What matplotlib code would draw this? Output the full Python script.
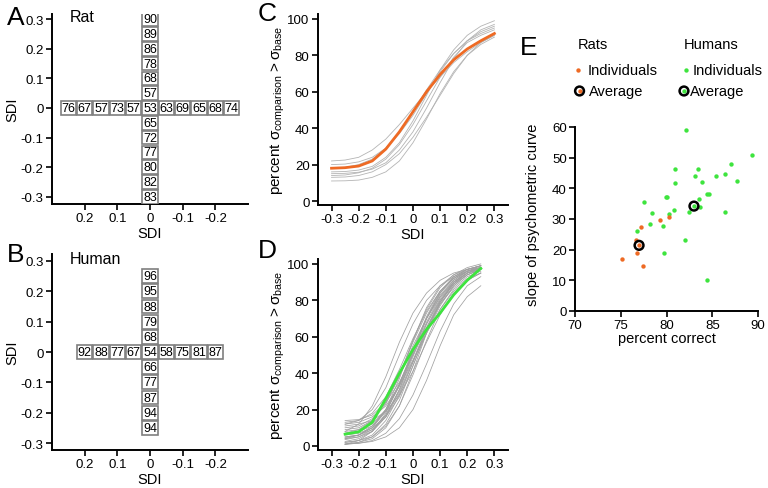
import numpy as np
import matplotlib
matplotlib.use("Agg")
import matplotlib.pyplot as plt
from matplotlib.patches import Rectangle

plt.rcParams['font.family'] = ['Liberation Sans', 'DejaVu Sans']
plt.rcParams['mathtext.fontset'] = 'custom'
plt.rcParams['mathtext.rm'] = 'Liberation Sans'

# ---- donnees panneaux A / B (pourcentage correct par SDI)
pos_rat_v = [0.3, 0.25, 0.2, 0.15, 0.1, 0.05, 0, -0.05, -0.1, -0.15, -0.2, -0.25, -0.3]
val_rat_v = [90, 89, 86, 78, 68, 57, 53, 65, 72, 77, 80, 82, 83]
pos_rat_h = [0.25, 0.2, 0.15, 0.1, 0.05, 0, -0.05, -0.1, -0.15, -0.2, -0.25]
val_rat_h = [76, 67, 57, 73, 57, 53, 63, 69, 65, 68, 74]

pos_hum_v = [0.25, 0.2, 0.15, 0.1, 0.05, 0, -0.05, -0.1, -0.15, -0.2, -0.25]
val_hum_v = [96, 95, 88, 79, 68, 54, 66, 77, 87, 94, 94]
pos_hum_h = [0.2, 0.15, 0.1, 0.05, 0, -0.05, -0.1, -0.15, -0.2]
val_hum_h = [92, 88, 77, 67, 54, 58, 75, 81, 87]

sdi_ticks = [0.3, 0.2, 0.1, 0, -0.1, -0.2, -0.3]
sdi_labels = ["0.3", "0.2", "0.1", "0", "-0.1", "-0.2", "-0.3"]
sdi_xticks = [0.2, 0.1, 0, -0.1, -0.2]
sdi_xlabels = ["0.2", "0.1", "0", "-0.1", "-0.2"]

# ---- donnees panneau C (courbes psychometriques rats)
sdi_c = [-0.3, -0.25, -0.2, -0.15, -0.1, -0.05, 0, 0.05, 0.1, 0.15, 0.2, 0.25, 0.3]
moy_rat = [18, 18.3, 19.2, 22, 28.5, 38, 49, 60, 69.5, 77.5, 83.5, 88, 92]
rats = [
    [22, 22.5, 24, 28, 34, 42, 51, 60, 68, 76, 82, 87, 91],
    [16, 16.2, 17, 19, 24, 32, 44, 58, 72, 83, 91, 96, 99],
    [15, 15.2, 15.8, 17.5, 21, 28, 38, 51, 65, 78, 88, 94, 97],
    [13, 13.2, 14, 16, 20, 26, 35, 46, 58, 70, 80, 87, 91],
    [11, 11.1, 11.5, 13, 16, 22, 32, 45, 59, 71, 80, 86, 90],
    [18, 18.5, 20, 23, 29, 38, 49, 61, 72, 81, 88, 92, 95],
    [14, 14.3, 15.5, 18, 23, 31, 42, 55, 68, 79, 87, 91, 94],
    [20, 20.3, 21.5, 24, 29, 37, 47, 59, 71, 81, 88, 93, 96],
]

# ---- donnees panneau D (courbes psychometriques humains)
sdi_d = [-0.25, -0.2, -0.15, -0.1, -0.05, 0, 0.05, 0.1, 0.15, 0.2, 0.25]
moy_hum = [6.5, 7.8, 13, 26, 40, 53, 64, 73, 83, 91, 97.5]
humains = [
    [2, 3, 6, 14, 28, 46, 64, 79, 89, 95, 98],
    [1, 3, 8, 18, 34, 53, 71, 85, 93, 97, 99],
    [5, 6, 9, 17, 31, 49, 67, 81, 90, 95, 98],
    [10, 11, 15, 24, 38, 55, 70, 82, 90, 95, 97],
    [14, 14.5, 17, 24, 35, 50, 65, 78, 87, 93, 96],
    [1, 2, 4, 10, 22, 41, 62, 79, 90, 96, 99],
    [4, 6, 11, 20, 34, 51, 68, 82, 91, 96, 98],
    [8, 9, 12, 20, 34, 52, 70, 84, 93, 97, 99],
    [12, 13, 16, 22, 33, 47, 62, 75, 85, 91, 95],
    [2.5, 4, 8, 16, 29, 46, 64, 79, 89, 95, 98],
    [4, 5, 8, 16, 31, 51, 70, 84, 92, 97, 99],
    [7, 9, 14, 24, 39, 57, 73, 85, 92, 96, 98],
    [1, 1.5, 3, 7, 15, 28, 45, 63, 78, 88, 93],
    [9, 10, 14, 23, 39, 58, 75, 87, 94, 98, 100],
    [3.5, 5, 9, 17, 30, 47, 65, 80, 90, 95, 97],
    [7, 8, 11, 19, 33, 50, 67, 80, 89, 94, 97],
    [1, 2, 5, 11, 22, 39, 58, 75, 86, 92, 95],
    [5, 6, 10, 20, 37, 58, 76, 88, 94, 97, 99],
    [11, 12, 14, 19, 28, 41, 57, 72, 84, 91, 95],
    [2, 3, 5, 12, 25, 44, 63, 78, 88, 94, 97],
    [4.5, 6, 10, 19, 33, 52, 70, 83, 91, 96, 98],
    [13, 14, 18, 27, 42, 59, 74, 85, 92, 96, 98],
    [1, 1.5, 2.5, 5, 10, 20, 36, 55, 72, 82, 88],
    [6, 7, 10, 16, 27, 44, 62, 77, 88, 94, 97],
    [8, 12, 22, 38, 57, 73, 84, 91, 95, 97, 98],
    [12, 14, 20, 32, 50, 67, 80, 88, 93, 96, 97],
]
curve_xticks = [-0.3, -0.2, -0.1, 0, 0.1, 0.2, 0.3]
curve_xlabels = ["-0.3", "-0.2", "-0.1", "0", "0.1", "0.2", "0.3"]

# ---- donnees panneau E (pente vs pourcentage correct)
rat_correct = [75.1, 77.2, 76.7, 77.0, 76.8, 77.4, 79.3, 80.3]
rat_pente = [17.0, 27.4, 23.3, 21.4, 18.9, 14.7, 29.7, 30.8]
hum_correct = [82.1, 89.3, 87.1, 86.4, 85.4, 87.7, 80.9, 83.4, 83.1, 80.9, 83.9,
               84.6, 84.4, 79.9, 80.1, 83.5, 77.5, 83.7, 82.5, 80.8, 80.3, 78.4,
               86.4, 78.2, 79.6, 76.8, 82.0, 79.7, 84.4, 83.0]
hum_pente = [59.1, 51.0, 48.0, 44.8, 44.1, 42.5, 46.4, 46.4, 44.1, 41.7, 42.0,
             38.3, 38.0, 37.3, 37.1, 36.4, 35.5, 33.8, 32.3, 32.8, 31.6, 32.0,
             32.3, 28.4, 27.7, 26.2, 23.1, 19.0, 10.0, 34.2]
moy_rat_e = (77.0, 21.4)
moy_hum_e = (83.0, 34.2)

orange = '#ee6a24'
vert = '#3ee43e'

fig = plt.figure(figsize=(7.68, 4.89), dpi=100)


def style(ax):
    for s in ['top', 'right']:
        ax.spines[s].set_visible(False)
    for s in ['left', 'bottom']:
        ax.spines[s].set_linewidth(1.4)
    ax.tick_params(direction='out', length=4, width=1.2, labelsize=9.5, pad=2)


def croix(ax, pv, vv, ph, vh):
    w = 0.046
    for y, v in zip(pv, vv):
        ax.add_patch(Rectangle((-w / 2, y - w / 2), w, w, fc='white', ec='#7f7f7f', lw=1.2, zorder=3))
        ax.text(0, y, str(v), ha='center', va='center', fontsize=9, zorder=4)
    for x, v in zip(ph, vh):
        if x == 0:
            continue
        ax.add_patch(Rectangle((x - w / 2, -w / 2), w, w, fc='white', ec='#7f7f7f', lw=1.2, zorder=3))
        ax.text(x, 0, str(v), ha='center', va='center', fontsize=9, zorder=4)


# Panneau A
axA = fig.add_axes([0.0677, 0.5808, 0.2552, 0.3885])
style(axA)
axA.set_xlim(0.3, -0.3)
axA.set_ylim(-0.324, 0.317)
croix(axA, pos_rat_v, val_rat_v, pos_rat_h, val_rat_h)
axA.set_yticks(sdi_ticks)
axA.set_yticklabels(sdi_labels)
axA.set_xticks(sdi_xticks)
axA.set_xticklabels(sdi_xlabels)
axA.set_xlabel("SDI", fontsize=10.5, labelpad=1)
axA.set_ylabel("SDI", fontsize=10.5, labelpad=1)
axA.text(0.09, 0.985, "Rat", transform=axA.transAxes, fontsize=11.5, va='center')

# Panneau B
axB = fig.add_axes([0.0677, 0.0777, 0.2552, 0.4008])
style(axB)
axB.set_xlim(0.3, -0.3)
axB.set_ylim(-0.323, 0.323)
croix(axB, pos_hum_v, val_hum_v, pos_hum_h, val_hum_h)
axB.set_yticks(sdi_ticks)
axB.set_yticklabels(sdi_labels)
axB.set_xticks(sdi_xticks)
axB.set_xticklabels(sdi_xlabels)
axB.set_xlabel("SDI", fontsize=10.5, labelpad=1)
axB.set_ylabel("SDI", fontsize=10.5, labelpad=1)
axB.text(0.09, 0.975, "Human", transform=axB.transAxes, fontsize=11.5, va='center')

ylab = r'percent $\mathregular{σ_{comparison} > σ_{base}}$'

# Panneau C
axC = fig.add_axes([0.414, 0.5787, 0.2474, 0.3906])
style(axC)
for r in rats:
    axC.plot(sdi_c, r, color='#b4b4b4', lw=0.6)
axC.plot(sdi_c, moy_rat, color=orange, lw=2)
axC.set_xlim(-0.35, 0.35)
axC.set_ylim(-2.2, 102.7)
axC.set_xticks(curve_xticks)
axC.set_xticklabels(curve_xlabels)
axC.set_yticks([0, 20, 40, 60, 80, 100])
axC.set_xlabel("SDI", fontsize=10.5, labelpad=1)
axC.set_ylabel(ylab, fontsize=11, labelpad=0)

# Panneau D
axD = fig.add_axes([0.414, 0.0777, 0.2474, 0.3906])
style(axD)
for h in humains:
    axD.plot(sdi_d, h, color='#a0a0a0', lw=0.55)
axD.plot(sdi_d, moy_hum, color=vert, lw=2)
axD.set_xlim(-0.35, 0.35)
axD.set_ylim(-2.2, 102.7)
axD.set_xticks(curve_xticks)
axD.set_xticklabels(curve_xlabels)
axD.set_yticks([0, 20, 40, 60, 80, 100])
axD.set_xlabel("SDI", fontsize=10.5, labelpad=1)
axD.set_ylabel(ylab, fontsize=11, labelpad=0)

# Panneau E
axE = fig.add_axes([0.7487, 0.362, 0.2383, 0.3763])
style(axE)
axE.scatter(hum_correct, hum_pente, s=10, color=vert, lw=0, zorder=3)
axE.scatter(rat_correct, rat_pente, s=10, color=orange, lw=0, zorder=3)
axE.scatter([moy_rat_e[0]], [moy_rat_e[1]], s=40, facecolor='none', edgecolor='black', lw=1.8, zorder=4)
axE.scatter([moy_hum_e[0]], [moy_hum_e[1]], s=40, facecolor='none', edgecolor='black', lw=1.8, zorder=4)
axE.set_xlim(70, 90)
axE.set_ylim(0, 60)
axE.set_xticks([70, 75, 80, 85, 90])
axE.set_yticks([0, 10, 20, 30, 40, 50, 60])
axE.set_xlabel("percent correct", fontsize=10.5, labelpad=0)
axE.set_ylabel("slope of psychometric curve", fontsize=10.5, labelpad=3)
axE.yaxis.set_label_coords(-0.19, 0.53)

# legende E
ft = fig.transFigure
fig.text(0.7526, 0.908, "Rats", fontsize=10.5, va='center')
fig.text(0.8906, 0.908, "Humans", fontsize=10.5, va='center')
axE.scatter([0.7526], [0.8548], s=10, color=orange, lw=0, transform=ft, clip_on=False)
axE.scatter([0.8932], [0.8548], s=10, color=vert, lw=0, transform=ft, clip_on=False)
fig.text(0.7656, 0.8548, "Individuals", fontsize=10.5, va='center')
fig.text(0.9023, 0.8548, "Individuals", fontsize=10.5, va='center')
axE.scatter([0.7546], [0.8119], s=10, color=orange, lw=0, transform=ft, clip_on=False)
axE.scatter([0.7546], [0.8119], s=40, facecolor='none', edgecolor='black', lw=1.8, transform=ft, clip_on=False)
axE.scatter([0.8906], [0.8119], s=10, color=vert, lw=0, transform=ft, clip_on=False)
axE.scatter([0.8906], [0.8119], s=40, facecolor='none', edgecolor='black', lw=1.8, transform=ft, clip_on=False)
fig.text(0.767, 0.8119, "Average", fontsize=10.5, va='center')
fig.text(0.8984, 0.8119, "Average", fontsize=10.5, va='center')

# lettres des panneaux
for lettre, x, y in [("A", 0.02, 0.963), ("B", 0.02, 0.478), ("C", 0.348, 0.971),
                     ("D", 0.348, 0.487), ("E", 0.689, 0.902)]:
    fig.text(x, y, lettre, fontsize=19, ha='center', va='center')

fig.savefig("out.png", dpi=100)
